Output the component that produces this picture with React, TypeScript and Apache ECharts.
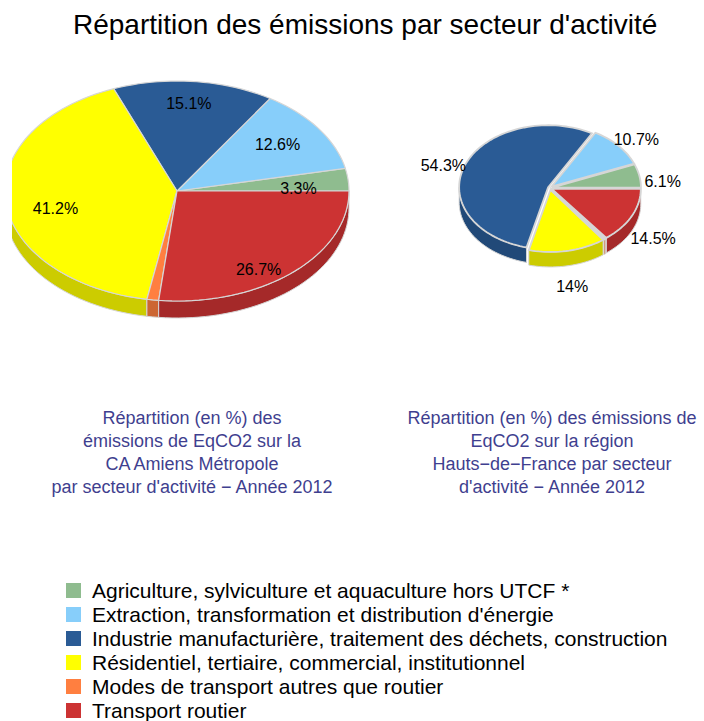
import React, { useEffect, useRef } from "react";
import * as echarts from "echarts";

const TITLE = "Répartition des émissions par secteur d'activité";
const CATEGORIES = [
  "Agriculture, sylviculture et aquaculture hors UTCF *",
  "Extraction, transformation et distribution d'énergie",
  "Industrie manufacturière, traitement des déchets, construction",
  "Résidentiel, tertiaire, commercial, institutionnel",
  "Modes de transport autres que routier",
  "Transport routier",
];
const AMIENS = [3.3, 12.6, 15.1, 41.2, 1.1, 26.7];
const HDF = [6.1, 10.7, 54.3, 14, 0.4, 14.5];
const SUBTITLES = [
  "Répartition (en %) des\némissions de EqCO2 sur la\nCA Amiens Métropole\npar secteur d'activité − Année 2012",
  "Répartition (en %) des émissions de\nEqCO2 sur la région\nHauts−de−France par secteur\nd'activité − Année 2012",
];

const COLORS = ["#8fbc8f", "#87cefa", "#2a5b95", "#ffff00", "#ff7f40", "#cc3333"];
const SIDE_COLORS = ["#729672", "#6ca5c8", "#214978", "#cccc00", "#cc6633", "#a52929"];

const PIES = [
  { cx: 177, cy: 191, rx: 172, ry: 110, depth: 17, explode: 0, stroke: 1.2, lrx: 0.71, lry: 0.87, ldy: 7.5 },
  { cx: 550, cy: 188, rx: 89, ry: 62, depth: 15, explode: 2, stroke: 1.8, lrx: 1.29, lry: 1.445, ldy: 11 },
];
const FONT = "Liberation Sans, Arial, sans-serif";

function cumulative(values: number[]) {
  const out: [number, number][] = [];
  let acc = 0;
  for (const v of values) {
    out.push([acc, acc + v]);
    acc += v;
  }
  return out;
}

function arcPts(cx: number, cy: number, rx: number, ry: number, a0: number, a1: number) {
  const n = Math.max(2, Math.ceil(((a1 - a0) / (Math.PI * 2)) * 160));
  const pts: number[][] = [];
  for (let k = 0; k <= n; k++) {
    const a = a0 + ((a1 - a0) * k) / n;
    pts.push([cx + rx * Math.cos(a), cy - ry * Math.sin(a)]);
  }
  return pts;
}

function renderItem(params: any, api: any) {
  const p = api.value(0);
  const s = api.value(1);
  const e = api.value(2);
  const v = api.value(3);
  const ci = api.value(4);
  const L = PIES[p];
  const a0 = (s / 100) * Math.PI * 2;
  const a1 = (e / 100) * Math.PI * 2;
  const mid = (a0 + a1) / 2;
  const cx = L.cx + L.explode * Math.cos(mid);
  const cy = L.cy - L.explode * Math.sin(mid);
  const children: any[] = [];
  const s0 = Math.max(a0, Math.PI);
  const s1 = Math.min(a1, Math.PI * 2);
  if (s1 > s0) {
    const topArc = arcPts(cx, cy, L.rx, L.ry, s0, s1);
    const bot = topArc.map((q) => [q[0], q[1] + L.depth]).reverse();
    children.push({
      type: "polygon",
      z2: 1,
      shape: { points: topArc.concat(bot) },
      style: { fill: SIDE_COLORS[ci], stroke: "#d6d6d6", lineWidth: 1 },
    });
  }
  const top = [[cx, cy]].concat(arcPts(cx, cy, L.rx, L.ry, a0, a1));
  children.push({
    type: "polygon",
    z2: 5,
    shape: { points: top },
    style: { fill: COLORS[ci], stroke: "#d6d6d6", lineWidth: L.stroke },
  });
  if (v >= 3) {
    children.push({
      type: "text",
      z2: 10,
      style: {
        text: v + "%",
        x: L.cx + L.rx * L.lrx * Math.cos(mid),
        y: L.cy + L.ldy - L.ry * L.lry * Math.sin(mid),
        align: "center",
        verticalAlign: "middle",
        textAlign: "center",
        textVerticalAlign: "middle",
        fill: "#000",
        font: "16px " + FONT,
      },
    });
  }
  return { type: "group", children };
}

export default function App() {
  const ref = useRef<HTMLDivElement>(null);
  useEffect(() => {
    if (!ref.current) return;
    const chart = echarts.init(ref.current, undefined, { renderer: "svg" });
    const ca = cumulative(AMIENS);
    const ch = cumulative(HDF);
    const series = CATEGORIES.map((name, i) => ({
      type: "custom",
      name,
      coordinateSystem: "none",
      itemStyle: { color: COLORS[i] },
      renderItem,
      data: [
        [0, ca[i][0], ca[i][1], AMIENS[i], i],
        [1, ch[i][0], ch[i][1], HDF[i], i],
      ],
    }));
    chart.setOption({
      animation: false,
      textStyle: { fontFamily: FONT },
      title: {
        text: TITLE,
        left: 68,
        top: 5,
        textStyle: { fontSize: 28, fontWeight: "normal", color: "#000", fontFamily: FONT },
      },
      legend: {
        orient: "vertical",
        left: 61,
        top: 575,
        height: 200,
        icon: "rect",
        itemWidth: 15,
        itemHeight: 15,
        itemGap: 3,
        selectedMode: false,
        data: CATEGORIES,
        textStyle: { fontSize: 21, lineHeight: 21, color: "#000", fontFamily: FONT, padding: [0, 0, 0, 6] },
      },
      graphic: [
        { type: "rect", z: 100, shape: { x: 0, y: 60, width: 12, height: 290 }, style: { fill: "#fff" } },
        {
          type: "text",
          z: 100,
          style: {
            text: SUBTITLES[0],
            x: 192,
            y: 406,
            align: "center",
            textAlign: "center",
            fill: "#3f3f8f",
            font: "18px " + FONT,
            lineHeight: 23,
          },
        },
        {
          type: "text",
          z: 100,
          style: {
            text: SUBTITLES[1],
            x: 552,
            y: 406,
            align: "center",
            textAlign: "center",
            fill: "#3f3f8f",
            font: "18px " + FONT,
            lineHeight: 23,
          },
        },
      ],
      series,
    });
    return () => chart.dispose();
  }, []);
  return <div ref={ref} style={{ position: "absolute", left: 0, top: 0, width: 704, height: 721 }} />;
}
